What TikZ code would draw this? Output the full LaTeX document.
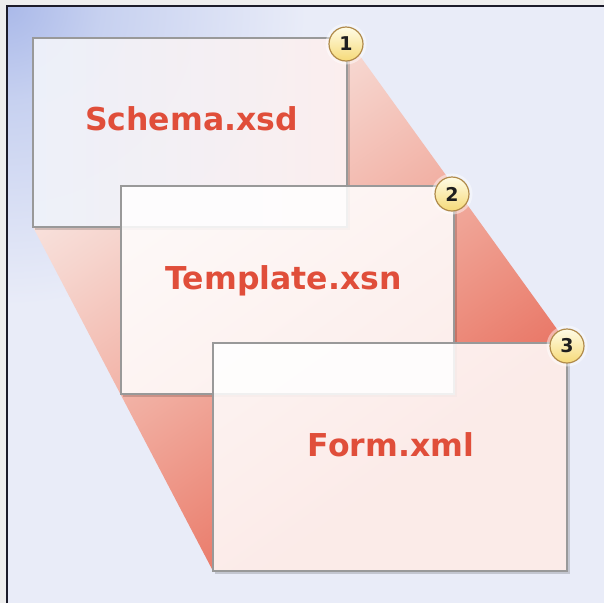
\documentclass[tikz,border=0pt]{standalone}
\usepackage{fontspec}
\setmainfont{DejaVu Sans}
\definecolor{bgc}{HTML}{E9ECF8}
\definecolor{bgmid}{HTML}{C7D1F0}
\definecolor{bgblue}{HTML}{AAB9E9}
\definecolor{bA}{HTML}{F9E6E2}
\definecolor{bB}{HTML}{F6D5CE}
\definecolor{bC}{HTML}{F1AC9F}
\definecolor{bD}{HTML}{EC8A7A}
\definecolor{bE}{HTML}{E87262}
\definecolor{txtc}{HTML}{E04E3A}
\definecolor{edgec}{HTML}{999999}
\definecolor{framec}{HTML}{1C1C2A}
\definecolor{outsidec}{HTML}{EEEEEE}
\definecolor{badgetop}{HTML}{FFFCE6}
\definecolor{badgebot}{HTML}{F6DA78}
\definecolor{badgeedge}{HTML}{B08A4A}
\definecolor{numc}{HTML}{1E1E1E}
\definecolor{cOneL}{HTML}{EFF2FA}
\definecolor{cOneM}{HTML}{F8F7FB}
\definecolor{cOneR}{HTML}{FCEFEE}
\pgfdeclareradialshading{cornerglow}{\pgfpoint{0bp}{0bp}}{color(0bp)=(bgblue); color(8bp)=(bgmid); color(25bp)=(bgc); color(50bp)=(bgc)}
\pgfdeclarehorizontalshading{bandsh}{100bp}{color(0bp)=(bA); color(38bp)=(bA); color(42bp)=(bB); color(50bp)=(bC); color(56bp)=(bD); color(60bp)=(bE); color(100bp)=(bE)}
\pgfdeclarelayer{bglayer}
\pgfdeclarelayer{bandlayer}
\pgfsetlayers{bglayer,bandlayer,main}
\tikzset{
  card/.style={draw=edgec, line width=1.1pt, inner sep=0pt, outer sep=0pt, anchor=north west},
  paper/.style={card, fill=white, fill opacity=0.86},
  firstpaper/.style={card, left color=cOneL, middle color=cOneM, right color=cOneR, fill opacity=0.95},
  cardshadow/.style={draw=black, draw opacity=0.16, line width=2pt},
  fname/.style={text=txtc, font=\fontsize{31.5}{32}\selectfont\bfseries, anchor=base, inner sep=0pt},
  badge/.style={circle, minimum size=34pt, inner sep=0pt, top color=badgetop, bottom color=badgebot,
    draw=badgeedge, line width=1.2pt, text=numc, font=\fontsize{19}{19}\selectfont\bfseries},
  halo/.style={circle, minimum size=41pt, fill=white, fill opacity=0.45, inner sep=0pt}
}
\begin{document}
\begin{tikzpicture}[x=1pt, y=-1pt]
\useasboundingbox (0,0) rectangle (604,603);
% cards with their shadows
\node[firstpaper, minimum width=314pt, minimum height=189pt] (c1) at (33,38) {};
\draw[cardshadow] ([shift={(2pt,0pt)}]c1.north east) -- ([shift={(2pt,-2pt)}]c1.south east) -- ([shift={(2pt,-2pt)}]c1.south west);
\node[paper, minimum width=333pt, minimum height=208pt] (c2) at (121,186) {};
\draw[cardshadow] ([shift={(2pt,0pt)}]c2.north east) -- ([shift={(2pt,-2pt)}]c2.south east) -- ([shift={(2pt,-2pt)}]c2.south west);
\node[paper, minimum width=354pt, minimum height=228pt] (c3) at (213,343) {};
\draw[cardshadow] ([shift={(2pt,0pt)}]c3.north east) -- ([shift={(2pt,-2pt)}]c3.south east) -- ([shift={(2pt,-2pt)}]c3.south west);
% labels
\node[fname] (t1) at (191.5,130.5) {Schema.xsd};
\node[fname] (t2) at (283.5,289) {Template.xsn};
\node[fname] (t3) at (391,456.5) {Form.xml};
% badges
\node[halo] (h1) at (346,44) {};
\node[badge] (b1) at (346,44) {1};
\node[halo] (h2) at (452,194) {};
\node[badge] (b2) at (452,194) {2};
\node[halo] (h3) at (567,346) {};
\node[badge] (b3) at (567,346) {3};
% background
\begin{pgfonlayer}{bglayer}
\fill[outsidec] (0,0) rectangle (604,603);
\begin{scope}
\clip (6.5,5.5) rectangle (604,603);
\fill[bgc] (6.5,5.5) rectangle (604,603);
\shade[shading=cornerglow] (6.5,5.5) circle (300pt);
\end{scope}
\draw[framec, line width=2pt] (6.5,603) -- (6.5,5.5) -- (604,5.5);
\end{pgfonlayer}
% red band
\begin{pgfonlayer}{bandlayer}
\begin{scope}
\clip (c1.north east) -- (c3.north east) -- (c3.south east) -- (c3.south west) -- (c1.south west) -- (c1.south east) -- cycle;
\begin{scope}[transform canvas={rotate around={-54.5:(300,300)}}]
\shade[shading=bandsh] (-200,-200) rectangle (800,800);
\end{scope}
\end{scope}
\end{pgfonlayer}
\end{tikzpicture}
\end{document}
